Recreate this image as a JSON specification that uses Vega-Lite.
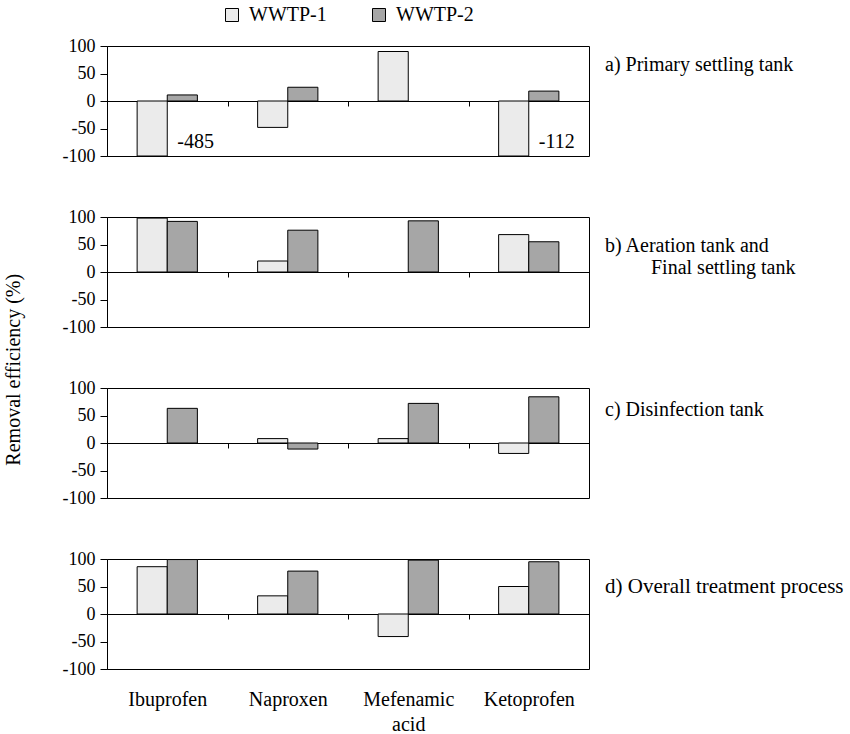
{
  "$schema": "https://vega.github.io/schema/vega-lite/v6.json",
  "background": "white",
  "padding": {"left": 3, "top": 5, "right": 0, "bottom": 0},
  "bounds": "flush",
  "spacing": 61,
  "title": {"text": "Removal efficiency (%)", "orient": "left", "anchor": "middle", "font": "Liberation Serif", "fontSize": 20, "fontWeight": "normal", "color": "black", "offset": 38},
  "datasets": {
    "a": [
      {"drug": "Ibuprofen", "plant": "WWTP-1", "value": -485},
      {"drug": "Ibuprofen", "plant": "WWTP-2", "value": 11},
      {"drug": "Naproxen", "plant": "WWTP-1", "value": -48},
      {"drug": "Naproxen", "plant": "WWTP-2", "value": 25},
      {"drug": "Mefenamic acid", "plant": "WWTP-1", "value": 90},
      {"drug": "Ketoprofen", "plant": "WWTP-1", "value": -112},
      {"drug": "Ketoprofen", "plant": "WWTP-2", "value": 18}
    ],
    "alabels": [
      {"drug": "Ibuprofen", "label": "-485"},
      {"drug": "Ketoprofen", "label": "-112"}
    ],
    "b": [
      {"drug": "Ibuprofen", "plant": "WWTP-1", "value": 98},
      {"drug": "Ibuprofen", "plant": "WWTP-2", "value": 92},
      {"drug": "Naproxen", "plant": "WWTP-1", "value": 20},
      {"drug": "Naproxen", "plant": "WWTP-2", "value": 76},
      {"drug": "Mefenamic acid", "plant": "WWTP-2", "value": 93},
      {"drug": "Ketoprofen", "plant": "WWTP-1", "value": 68},
      {"drug": "Ketoprofen", "plant": "WWTP-2", "value": 55}
    ],
    "c": [
      {"drug": "Ibuprofen", "plant": "WWTP-2", "value": 63},
      {"drug": "Naproxen", "plant": "WWTP-1", "value": 8},
      {"drug": "Naproxen", "plant": "WWTP-2", "value": -11},
      {"drug": "Mefenamic acid", "plant": "WWTP-1", "value": 8},
      {"drug": "Mefenamic acid", "plant": "WWTP-2", "value": 72},
      {"drug": "Ketoprofen", "plant": "WWTP-1", "value": -19},
      {"drug": "Ketoprofen", "plant": "WWTP-2", "value": 84}
    ],
    "d": [
      {"drug": "Ibuprofen", "plant": "WWTP-1", "value": 86},
      {"drug": "Ibuprofen", "plant": "WWTP-2", "value": 99},
      {"drug": "Naproxen", "plant": "WWTP-1", "value": 33},
      {"drug": "Naproxen", "plant": "WWTP-2", "value": 78},
      {"drug": "Mefenamic acid", "plant": "WWTP-1", "value": -41},
      {"drug": "Mefenamic acid", "plant": "WWTP-2", "value": 98},
      {"drug": "Ketoprofen", "plant": "WWTP-1", "value": 50},
      {"drug": "Ketoprofen", "plant": "WWTP-2", "value": 95}
    ]
  },
  "vconcat": [
    {
      "width": 482, "height": 110,
      "layer": [
        {
          "data": {"name": "a"},
          "mark": {"type": "bar", "stroke": "black", "strokeWidth": 1},
          "encoding": {
            "x": {"field": "drug", "type": "nominal", "sort": ["Ibuprofen", "Naproxen", "Mefenamic acid", "Ketoprofen"], "scale": {"paddingInner": 0, "paddingOuter": 0}, "axis": {"orient": "bottom", "offset": -55, "labels": false, "title": null, "tickBand": "extent", "tickSize": 5}},
            "xOffset": {"field": "plant", "type": "nominal", "scale": {"domain": ["WWTP-1", "WWTP-2"], "paddingInner": 0, "paddingOuter": 1.5}},
            "y": {"field": "value", "type": "quantitative", "scale": {"domain": [-100, 100], "clamp": true, "nice": false}, "axis": {"values": [-100, -50, 0, 50, 100], "title": null, "labelOverlap": false}},
            "color": {"field": "plant", "type": "nominal", "scale": {"domain": ["WWTP-1", "WWTP-2"], "range": ["#ebebeb", "#a6a6a6"]}, "legend": {"title": null, "orient": "none", "direction": "horizontal", "legendX": 115, "legendY": -41}}
          }
        },
        {
          "data": {"name": "alabels"},
          "mark": {"type": "text", "align": "left", "baseline": "middle", "dx": -5, "font": "Liberation Serif", "fontSize": 20, "color": "black"},
          "encoding": {
            "x": {"field": "drug", "type": "nominal", "sort": ["Ibuprofen", "Naproxen", "Mefenamic acid", "Ketoprofen"], "axis": {"orient": "bottom", "offset": -55, "labels": false, "title": null, "tickBand": "extent", "tickSize": 5}},
            "xOffset": {"datum": "WWTP-2"},
            "y": {"datum": -75, "axis": {"values": [-100, -50, 0, 50, 100], "title": null, "labelOverlap": false}},
            "text": {"field": "label"}
          }
        },
        {
          "data": {"values": [{"label": "a) Primary settling tank"}]},
          "mark": {"type": "text", "align": "left", "baseline": "middle", "dx": 16, "font": "Liberation Serif", "fontSize": 20, "color": "black"},
          "encoding": {"x": {"value": "width"}, "y": {"datum": 65, "axis": {"values": [-100, -50, 0, 50, 100], "title": null, "labelOverlap": false}}, "text": {"field": "label"}}
        }
      ]
    },
    {
      "width": 482, "height": 110,
      "layer": [
        {
          "data": {"name": "b"},
          "mark": {"type": "bar", "stroke": "black", "strokeWidth": 1},
          "encoding": {
            "x": {"field": "drug", "type": "nominal", "sort": ["Ibuprofen", "Naproxen", "Mefenamic acid", "Ketoprofen"], "scale": {"paddingInner": 0, "paddingOuter": 0}, "axis": {"orient": "bottom", "offset": -55, "labels": false, "title": null, "tickBand": "extent", "tickSize": 5}},
            "xOffset": {"field": "plant", "type": "nominal", "scale": {"domain": ["WWTP-1", "WWTP-2"], "paddingInner": 0, "paddingOuter": 1.5}},
            "y": {"field": "value", "type": "quantitative", "scale": {"domain": [-100, 100], "clamp": true, "nice": false}, "axis": {"values": [-100, -50, 0, 50, 100], "title": null, "labelOverlap": false}},
            "color": {"field": "plant", "type": "nominal", "scale": {"domain": ["WWTP-1", "WWTP-2"], "range": ["#ebebeb", "#a6a6a6"]}}
          }
        },
        {
          "data": {"values": [{"label": "b) Aeration tank and"}]},
          "mark": {"type": "text", "align": "left", "baseline": "middle", "dx": 16, "font": "Liberation Serif", "fontSize": 20, "color": "black"},
          "encoding": {"x": {"value": "width"}, "y": {"datum": 47, "axis": {"values": [-100, -50, 0, 50, 100], "title": null, "labelOverlap": false}}, "text": {"field": "label"}}
        },
        {
          "data": {"values": [{"label": "Final settling tank"}]},
          "mark": {"type": "text", "align": "left", "baseline": "middle", "dx": 62, "font": "Liberation Serif", "fontSize": 20, "color": "black"},
          "encoding": {"x": {"value": "width"}, "y": {"datum": 7, "axis": {"values": [-100, -50, 0, 50, 100], "title": null, "labelOverlap": false}}, "text": {"field": "label"}}
        }
      ]
    },
    {
      "width": 482, "height": 110,
      "layer": [
        {
          "data": {"name": "c"},
          "mark": {"type": "bar", "stroke": "black", "strokeWidth": 1},
          "encoding": {
            "x": {"field": "drug", "type": "nominal", "sort": ["Ibuprofen", "Naproxen", "Mefenamic acid", "Ketoprofen"], "scale": {"paddingInner": 0, "paddingOuter": 0}, "axis": {"orient": "bottom", "offset": -55, "labels": false, "title": null, "tickBand": "extent", "tickSize": 5}},
            "xOffset": {"field": "plant", "type": "nominal", "scale": {"domain": ["WWTP-1", "WWTP-2"], "paddingInner": 0, "paddingOuter": 1.5}},
            "y": {"field": "value", "type": "quantitative", "scale": {"domain": [-100, 100], "clamp": true, "nice": false}, "axis": {"values": [-100, -50, 0, 50, 100], "title": null, "labelOverlap": false}},
            "color": {"field": "plant", "type": "nominal", "scale": {"domain": ["WWTP-1", "WWTP-2"], "range": ["#ebebeb", "#a6a6a6"]}}
          }
        },
        {
          "data": {"values": [{"label": "c) Disinfection tank"}]},
          "mark": {"type": "text", "align": "left", "baseline": "middle", "dx": 16, "font": "Liberation Serif", "fontSize": 20, "color": "black"},
          "encoding": {"x": {"value": "width"}, "y": {"datum": 60, "axis": {"values": [-100, -50, 0, 50, 100], "title": null, "labelOverlap": false}}, "text": {"field": "label"}}
        }
      ]
    },
    {
      "width": 482, "height": 110,
      "layer": [
        {
          "data": {"name": "d"},
          "mark": {"type": "bar", "stroke": "black", "strokeWidth": 1},
          "encoding": {
            "x": {"field": "drug", "type": "nominal", "sort": ["Ibuprofen", "Naproxen", "Mefenamic acid", "Ketoprofen"], "scale": {"paddingInner": 0, "paddingOuter": 0}, "axis": {"orient": "bottom", "offset": -55, "labels": true, "labelPadding": 70, "labelAngle": 0, "labelFontSize": 20, "labelBaseline": "top", "labelLineHeight": 25, "labelExpr": "datum.value == 'Mefenamic acid' ? ['Mefenamic', 'acid'] : datum.value", "title": null, "tickBand": "extent", "tickSize": 5}},
            "xOffset": {"field": "plant", "type": "nominal", "scale": {"domain": ["WWTP-1", "WWTP-2"], "paddingInner": 0, "paddingOuter": 1.5}},
            "y": {"field": "value", "type": "quantitative", "scale": {"domain": [-100, 100], "clamp": true, "nice": false}, "axis": {"values": [-100, -50, 0, 50, 100], "title": null, "labelOverlap": false}},
            "color": {"field": "plant", "type": "nominal", "scale": {"domain": ["WWTP-1", "WWTP-2"], "range": ["#ebebeb", "#a6a6a6"]}}
          }
        },
        {
          "data": {"values": [{"label": "d) Overall treatment process"}]},
          "mark": {"type": "text", "align": "left", "baseline": "middle", "dx": 16, "font": "Liberation Serif", "fontSize": 21, "color": "black"},
          "encoding": {"x": {"value": "width"}, "y": {"datum": 49, "axis": {"values": [-100, -50, 0, 50, 100], "title": null, "labelOverlap": false}}, "text": {"field": "label"}}
        }
      ]
    }
  ],
  "config": {
    "locale": {"number": {"decimal": ".", "thousands": ",", "grouping": [3], "currency": ["$", ""], "minus": "-"}},
    "view": {"stroke": "black", "strokeWidth": 1},
    "font": "Liberation Serif",
    "axis": {"grid": false, "domainColor": "black", "tickColor": "black", "labelColor": "black", "labelFont": "Liberation Serif", "labelFontSize": 18, "tickSize": 7, "labelPadding": 5, "domainWidth": 1, "tickWidth": 1},
    "title": {"font": "Liberation Serif", "fontSize": 20, "fontWeight": "normal", "color": "black"},
    "legend": {"labelFont": "Liberation Serif", "labelFontSize": 20, "labelColor": "black", "symbolType": "square", "symbolSize": 169, "symbolStrokeColor": "black", "symbolStrokeWidth": 1, "symbolOpacity": 1, "labelOffset": 7, "columnPadding": 42}
  }
}
